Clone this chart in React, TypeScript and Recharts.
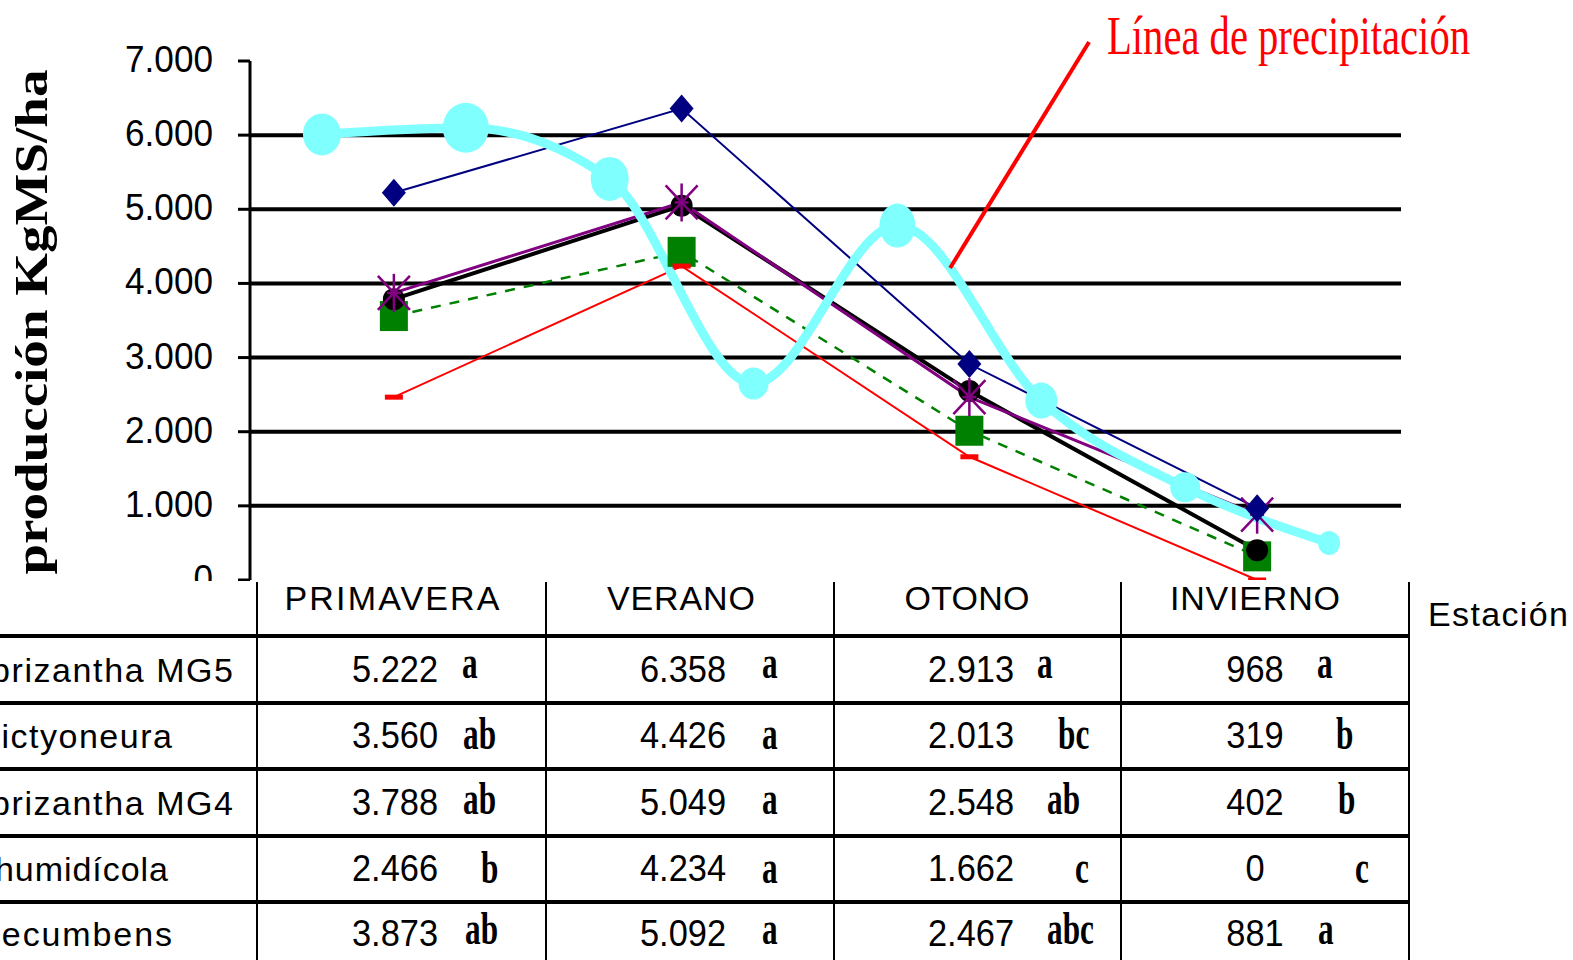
import React from 'react';
import { Line, LineChart, ReferenceLine, XAxis, YAxis } from 'recharts';

// estaciones (eje x numérico: 0..3, la lluvia va en cuartos)
const SEASONS = ['PRIMAVERA', 'VERANO', 'OTONO', 'INVIERNO'];
const SEASON_X = [0, 1, 2, 3];

// producción KgMS/ha por especie
const MG5 = [5222, 6358, 2913, 968];
const DICTYONEURA = [3560, 4426, 2013, 319];
const MG4 = [3788, 5049, 2548, 402];
const HUMIDICOLA = [2466, 4234, 1662, 0];
const DECUMBENS = [3873, 5092, 2467, 881];

// letras de significancia
const SIG_MG5 = ['a', 'a', 'a', 'a'];
const SIG_DICTYONEURA = ['ab', 'a', 'bc', 'b'];
const SIG_MG4 = ['ab', 'a', 'ab', 'b'];
const SIG_HUMIDICOLA = ['b', 'a', 'c', 'c'];
const SIG_DECUMBENS = ['ab', 'a', 'abc', 'a'];

const ROW_NAMES = ['brizantha MG5', 'dictyoneura', 'brizantha MG4', 'humidícola', 'decumbens'];

// línea de precipitación (escala relativa)
const PRECIP_X = [-0.25, 0.25, 0.75, 1.25, 1.75, 2.25, 2.75, 3.25];
const PRECIP_Y = [6010, 6100, 5410, 2650, 4780, 2420, 1250, 500];

const Y_TICKS = [0, 1000, 2000, 3000, 4000, 5000, 6000, 7000];
const Y_TICK_LABELS = ['0', '1.000', '2.000', '3.000', '4.000', '5.000', '6.000', '7.000'];
const GRID_VALUES = [1000, 2000, 3000, 4000, 5000, 6000];

const NOTE_TEXT = 'Línea de precipitación';
const NOTE_FROM = { x: 1.933, y: 4208 };
const NOTE_TO = { x: 2.416, y: 7257 };

// --- estilos / maquetación ---
const W = 1573;
const H = 960;
const SANS = '"Liberation Sans", Arial, sans-serif';
const SERIF = '"Liberation Serif", "Times New Roman", serif';
const NAVY = '#000080';
const GREEN = '#008000';
const PURPLE = '#800080';
const RED = '#ff0000';
const CYAN = '#80ffff';

const PRECIP_DOT_R = [
  [19, 21], [23, 25], [19, 22], [15, 16], [18, 22], [16, 18], [15, 15], [11, 12],
];

const COL_LINES = [257, 546, 834, 1121, 1409];
const ROW_LINES = [636, 703, 769, 836, 902];
const COL_CENTER = [395, 683, 971, 1255];
const HEADER_CENTER = [392, 681, 967, 1255];
const HEADER_LEN = [215, 148, 125, 170];
const ROW_BASE = [682, 748, 815, 881, 946];
const ROW_NAME_X = [-9, -19, -9, -5, -19];
const ROW_NAME_LEN = [242, 191, 242, 173, 191];
const LETTER_X = [
  [462, 762, 1037, 1317],
  [463, 762, 1058, 1336],
  [463, 762, 1047, 1338],
  [481, 762, 1075, 1355],
  [465, 762, 1047, 1318],
];
const LETTER_BASE = [678, 749, 814, 883, 944];

const toPoints = (vals: number[]) => vals.map((y, i) => ({ x: SEASON_X[i], y }));
const precip = PRECIP_X.map((x, i) => ({ x, y: PRECIP_Y[i] }));
const fmt = (n: number) => String(n).replace(/\B(?=(\d{3})+(?!\d))/g, '.');

const rows = [
  { name: ROW_NAMES[0], vals: MG5, sig: SIG_MG5 },
  { name: ROW_NAMES[1], vals: DICTYONEURA, sig: SIG_DICTYONEURA },
  { name: ROW_NAMES[2], vals: MG4, sig: SIG_MG4 },
  { name: ROW_NAMES[3], vals: HUMIDICOLA, sig: SIG_HUMIDICOLA },
  { name: ROW_NAMES[4], vals: DECUMBENS, sig: SIG_DECUMBENS },
];

const diamondDot = (p: any) => (
  <path
    key={`dia-${p.index}`}
    d={`M${p.cx},${p.cy - 14} L${p.cx + 12},${p.cy} L${p.cx},${p.cy + 14} L${p.cx - 12},${p.cy} Z`}
    fill={NAVY}
  />
);

const squareDot = (p: any) => (
  <rect key={`sq-${p.index}`} x={p.cx - 14} y={p.cy - 15} width={28} height={30} fill={GREEN} />
);

const circleDot = (p: any) => <circle key={`ci-${p.index}`} cx={p.cx} cy={p.cy} r={11} fill="#000" />;

const starDot = (p: any) => (
  <g key={`st-${p.index}`} stroke={PURPLE} strokeWidth={2.5}>
    <line x1={p.cx} y1={p.cy - 19} x2={p.cx} y2={p.cy + 19} />
    <line x1={p.cx - 16} y1={p.cy - 17} x2={p.cx + 16} y2={p.cy + 17} />
    <line x1={p.cx - 16} y1={p.cy + 17} x2={p.cx + 16} y2={p.cy - 17} />
    <line x1={p.cx - 7} y1={p.cy} x2={p.cx + 7} y2={p.cy} />
  </g>
);

const dashDot = (p: any) => (
  <rect key={`da-${p.index}`} x={p.cx - 9} y={p.cy - 2.5} width={18} height={5} fill={RED} />
);

const rainDot = (p: any) => {
  const [rx, ry] = PRECIP_DOT_R[p.index] || [14, 14];
  return <ellipse key={`ra-${p.index}`} cx={p.cx} cy={p.cy} rx={rx} ry={ry} fill={CYAN} />;
};

const renderYTick = (p: any) => {
  const i = Y_TICKS.indexOf(p.payload.value);
  return (
    <text
      transform={`translate(${p.x},${p.y + 11}) scale(0.95,1)`}
      textAnchor="end"
      fontFamily={SANS}
      fontSize={37}
      fill="#000"
    >
      {Y_TICK_LABELS[i]}
    </text>
  );
};

export default function App() {
  return (
    <div
      style={{
        position: 'absolute',
        left: 0,
        top: 0,
        width: W,
        height: H,
        overflow: 'hidden',
        background: '#fff',
      }}
    >
      <LineChart width={W} height={H} margin={{ top: 61, right: W - 1401, bottom: H - 580, left: 0 }}>
        <XAxis type="number" dataKey="x" domain={[-0.5, 3.5]} hide allowDataOverflow />
        <YAxis
          type="number"
          domain={[0, 7000]}
          ticks={Y_TICKS}
          interval={0}
          allowDataOverflow
          width={250}
          tickSize={12}
          tickMargin={25}
          axisLine={{ stroke: '#000', strokeWidth: 3 }}
          tickLine={{ stroke: '#000', strokeWidth: 3 }}
          tick={renderYTick}
        />
        {GRID_VALUES.map((v) => (
          <ReferenceLine key={v} y={v} stroke="#000" strokeWidth={4} />
        ))}

        <Line data={toPoints(DICTYONEURA)} dataKey="y" type="linear" stroke={GREEN} strokeWidth={2.5}
          strokeDasharray="10 9" dot={squareDot} activeDot={false} isAnimationActive={false} />
        <Line data={toPoints(MG4)} dataKey="y" type="linear" stroke="#000" strokeWidth={4}
          dot={circleDot} activeDot={false} isAnimationActive={false} />
        <Line data={toPoints(DECUMBENS)} dataKey="y" type="linear" stroke={PURPLE} strokeWidth={3}
          dot={starDot} activeDot={false} isAnimationActive={false} />
        <Line data={toPoints(HUMIDICOLA)} dataKey="y" type="linear" stroke={RED} strokeWidth={2}
          dot={dashDot} activeDot={false} isAnimationActive={false} />
        <Line data={toPoints(MG5)} dataKey="y" type="linear" stroke={NAVY} strokeWidth={2}
          dot={diamondDot} activeDot={false} isAnimationActive={false} />
        <Line data={precip} dataKey="y" type="monotone" stroke={CYAN} strokeWidth={9}
          dot={rainDot} activeDot={false} isAnimationActive={false} />

        <ReferenceLine segment={[NOTE_FROM, NOTE_TO]} stroke={RED} strokeWidth={4} ifOverflow="visible" />
      </LineChart>

      <svg
        width={W}
        height={H}
        style={{ position: 'absolute', left: 0, top: 0, pointerEvents: 'none' }}
      >
        <text
          transform="translate(47,322) rotate(-90)"
          textAnchor="middle"
          fontFamily={SERIF}
          fontWeight="bold"
          fontSize={46}
          textLength={505}
          lengthAdjust="spacingAndGlyphs"
          fill="#000"
        >
          producción KgMS/ha
        </text>

        <text x={1107} y={54} fontFamily={SERIF} fontSize={54} fill={RED}
          textLength={363} lengthAdjust="spacingAndGlyphs">
          {NOTE_TEXT}
        </text>

        {/* tabla de datos */}
        <rect x={0} y={581} width={W} height={H - 581} fill="#fff" />
        {COL_LINES.map((x) => (
          <line key={`c${x}`} x1={x} y1={582} x2={x} y2={H} stroke="#000" strokeWidth={2} />
        ))}
        {ROW_LINES.map((y) => (
          <line key={`r${y}`} x1={0} y1={y} x2={1409} y2={y} stroke="#000" strokeWidth={4} />
        ))}
        {SEASONS.map((s, i) => (
          <text key={s} x={HEADER_CENTER[i]} y={610} textAnchor="middle" fontFamily={SANS}
            fontSize={34} textLength={HEADER_LEN[i]} lengthAdjust="spacing" fill="#000">
            {s}
          </text>
        ))}
        <text x={1428} y={626} fontFamily={SANS} fontSize={34} textLength={140}
          lengthAdjust="spacing" fill="#000">
          Estación
        </text>

        {rows.map((r, ri) => (
          <g key={r.name + ri}>
            <text x={ROW_NAME_X[ri]} y={ROW_BASE[ri]} fontFamily={SANS} fontSize={34}
              textLength={ROW_NAME_LEN[ri]} lengthAdjust="spacing" fill="#000">
              {r.name}
            </text>
            {r.vals.map((v, ci) => (
              <text key={`v${ci}`} transform={`translate(${COL_CENTER[ci]},${ROW_BASE[ri]}) scale(0.93,1)`}
                textAnchor="middle" fontFamily={SANS} fontSize={37} fill="#000">
                {fmt(v)}
              </text>
            ))}
            {r.sig.map((s, ci) => (
              <text key={`s${ci}`} transform={`translate(${LETTER_X[ri][ci]},${LETTER_BASE[ri]}) scale(0.68,1)`}
                fontFamily={SERIF} fontWeight="bold" fontSize={46} fill="#000">
                {s}
              </text>
            ))}
          </g>
        ))}
      </svg>
    </div>
  );
}
